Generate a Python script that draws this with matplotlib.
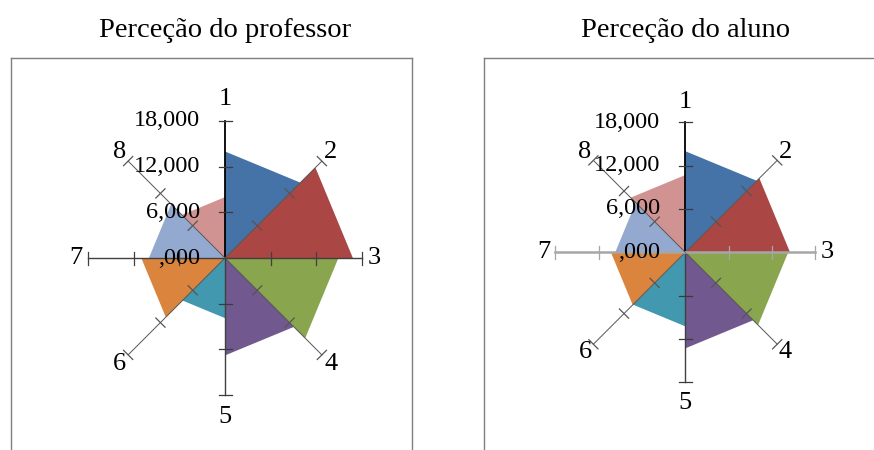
import numpy as np
import matplotlib
matplotlib.use("Agg")
import matplotlib.pyplot as plt

plt.rcParams['font.family'] = ['Liberation Serif', 'DejaVu Serif']

# One value per wedge: wedge i spans spoke i to spoke i+1 (8 wraps to 1)
spokes = ["1", "2", "3", "4", "5", "6", "7", "8"]
professor = [14000, 16800, 14900, 12800, 7900, 11000, 10000, 8000]
aluno = [14000, 14500, 14250, 13300, 10250, 10300, 9700, 10700]
titles = ["Perceção do professor", "Perceção do aluno"]
ring_values = [18000, 12000, 6000, 0]
ring_labels = ["18,000", "12,000", "6,000", ",000"]
wedge_colors = ["#4572A7", "#AA4643", "#89A54E", "#71588F",
                "#4198AF", "#DB843D", "#93A9CF", "#D19392"]

W, H = 874, 450
fig = plt.figure(figsize=(W / 100, H / 100), dpi=100)


def radar(frame, center, radius_px, values, title, horiz_color, horiz_lw):
    # frame = (left, top, right, bottom) in pixels from top-left
    x0, y0, x1, y1 = frame
    ax = fig.add_axes([x0 / W, 1 - y1 / H, (x1 - x0) / W, (y1 - y0) / H])
    k = 18000 / radius_px  # data units per pixel
    cx, cy = center
    ax.set_xlim(-(cx - x0) * k, (x1 - cx) * k)
    ax.set_ylim(-(y1 - cy) * k, (cy - y0) * k)
    ax.set_xticks([])
    ax.set_yticks([])
    for s in ax.spines.values():
        s.set_color("#7f7f7f")
        s.set_linewidth(1.0)

    n = len(spokes)
    ang = np.pi / 2 - np.arange(n) * 2 * np.pi / n
    dirs = np.column_stack([np.cos(ang), np.sin(ang)])

    for i, v in enumerate(values):
        a, b = dirs[i], dirs[(i + 1) % n]
        ax.fill([0, a[0] * v, b[0] * v], [0, a[1] * v, b[1] * v],
                color=wedge_colors[i], lw=0, zorder=1)

    half = 6.5 * k
    rmax = max(ring_values)
    for i, (dx, dy) in enumerate(dirs):
        if i == 0:
            col, lw = "black", 1.3
        elif i in (2, 6):
            col, lw = horiz_color, horiz_lw
        elif i == 4:
            col, lw = "#404040", 1.0
        else:
            col, lw = "#555555", 0.7
        ax.plot([0, dx * rmax], [0, dy * rmax], color=col, lw=lw, zorder=2)
        px, py = -dy, dx
        for r in ring_values:
            if r == 0:
                continue
            tx, ty = dx * r, dy * r
            ax.plot([tx - px * half, tx + px * half], [ty - py * half, ty + py * half],
                    color="#3a3a3a" if i in (0, 4) else col, lw=0.9, zorder=2)
        f = 1.16 if i in (0, 4) else 1.09
        ax.text(dx * rmax * f, dy * rmax * f, spokes[i], fontsize=19,
                ha="center", va="center", zorder=3)

    for r, lab in zip(ring_values, ring_labels):
        ax.text(-25 * k, r, lab, fontsize=17.5, ha="right", va="center", zorder=3)

    fig.text(cx / W, 1 - 37 / H, title, fontsize=20.5, ha="center", va="baseline")


radar((10.7, 58, 411.7, 480), (225, 258), 137, professor, titles[0], "#404040", 1.0)
radar((483.7, 58, 900, 480), (685.3, 252.3), 130, aluno, titles[1], "#a6a6a6", 1.8)

fig.savefig("out.png", dpi=100)
